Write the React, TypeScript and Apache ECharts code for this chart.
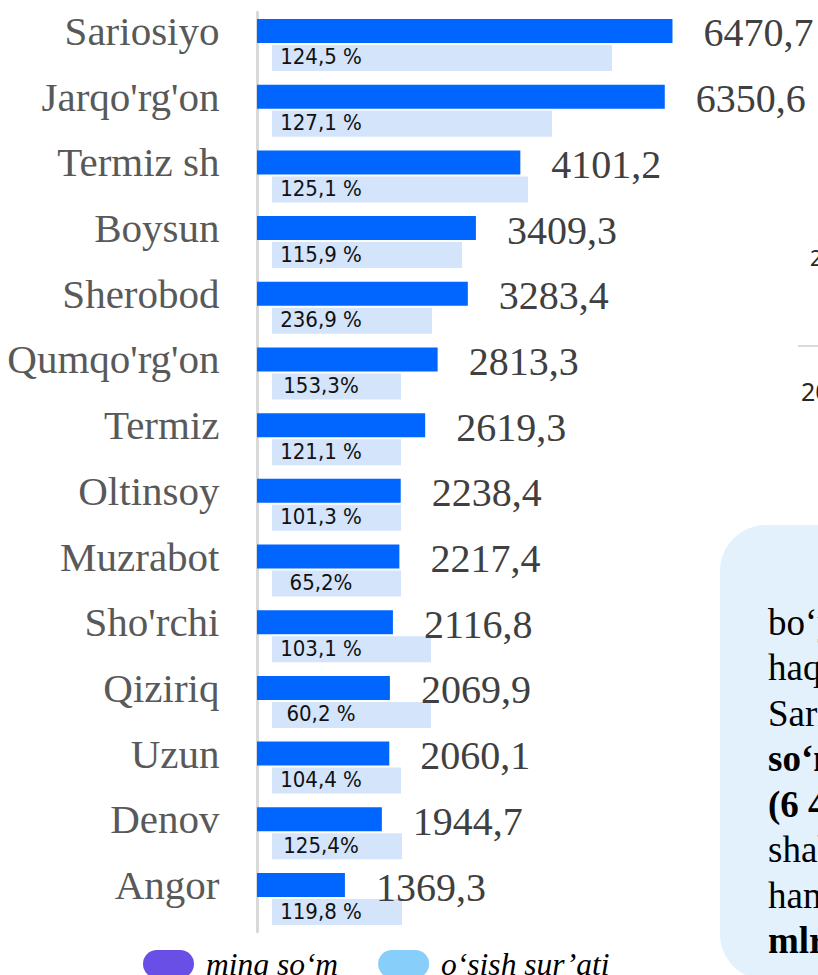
import React, { useEffect, useRef } from "react";
import * as echarts from "echarts";

// Districts (top to bottom)
const categories = [
  "Sariosiyo",
  "Jarqo'rg'on",
  "Termiz sh",
  "Boysun",
  "Sherobod",
  "Qumqo'rg'on",
  "Termiz",
  "Oltinsoy",
  "Muzrabot",
  "Sho'rchi",
  "Qiziriq",
  "Uzun",
  "Denov",
  "Angor",
];

// ming so‘m
const values = [
  6470.7, 6350.6, 4101.2, 3409.3, 3283.4, 2813.3, 2619.3, 2238.4, 2217.4,
  2116.8, 2069.9, 2060.1, 1944.7, 1369.3,
];

// o‘sish sur’ati (labels as printed)
const growthLabels = [
  "124,5 %",
  "127,1 %",
  "125,1 %",
  "115,9 %",
  "236,9 %",
  "153,3%",
  "121,1 %",
  "101,3 %",
  "65,2%",
  "103,1 %",
  "60,2 %",
  "104,4 %",
  "125,4%",
  "119,8 %",
];

// lengths of the pale growth bars (same units as the value axis)
const growthBarLengths = [
  5295, 4361, 3987, 2959, 2492, 2009, 2009, 2009, 2009, 2476, 2476, 2009, 2025,
  2025,
];

const legendNames = ["ming so‘m", "o‘sish sur’ati"];

// side panel text (cropped in the picture)
const panelLines = [
  { text: "bo‘yicha", bold: false },
  { text: "haqida", bold: false },
  { text: "Sariosiyo", bold: false },
  { text: "so‘m", bold: true },
  { text: "(6 470,7", bold: true },
  { text: "shahri", bold: false },
  { text: "hamda", bold: false },
  { text: "mlrd", bold: true },
];

const fmt = (v: number) => v.toFixed(1).replace(".", ",");

const pillPath =
  "path://M14,0 L37,0 A14,14 0 0 1 37,28 L14,28 A14,14 0 0 1 14,0 Z";

export default function App() {
  const ref = useRef<HTMLDivElement>(null);

  useEffect(() => {
    if (!ref.current) return;
    const chart = echarts.init(ref.current, null, { renderer: "svg" });

    const xMax = 8000;
    const pxPerUnit = 0.06421;
    const gridWidth = xMax * pxPerUnit;
    const paleOffset = 15 / pxPerUnit;

    const panelTexts: any[] = panelLines.map((l, i) => ({
      type: "text",
      style: {
        text: l.text,
        x: 768,
        y: 622 + i * 45.5,
        fontFamily: "Liberation Serif",
        fontSize: 37,
        fontWeight: l.bold ? "bold" : "normal",
        fill: "#000",
        verticalAlign: "middle",
      },
    }));

    chart.setOption({
      animation: false,
      backgroundColor: "#ffffff",
      grid: {
        left: 257,
        top: 12.15,
        width: gridWidth,
        height: 919.7,
        containLabel: false,
      },
      legend: {
        data: [
          { name: legendNames[0], itemStyle: { color: "#6a4fe6" }, icon: pillPath },
          { name: legendNames[1], itemStyle: { color: "#87cefa" }, icon: pillPath },
        ],
        selectedMode: false,
        left: 143,
        top: 948,
        padding: 0,
        itemWidth: 51,
        itemHeight: 28,
        itemGap: 40,
        textStyle: {
          fontFamily: "Liberation Serif",
          fontStyle: "italic",
          fontSize: 31.5,
          lineHeight: 24,
          color: "#000",
          padding: [0, 0, 0, 7],
        },
      },
      xAxis: [
        { type: "value", min: 0, max: xMax, show: false },
        {
          type: "value",
          min: -paleOffset,
          max: xMax - paleOffset,
          show: false,
        },
      ],
      yAxis: {
        type: "category",
        data: categories,
        inverse: true,
        offset: 2.5,
        axisTick: { show: false },
        axisLine: { show: true, lineStyle: { color: "#d9d9d9", width: 3 } },
        splitLine: { show: false },
        axisLabel: {
          margin: 35,
          fontFamily: "Liberation Serif",
          fontSize: 41,
          color: "#595959",
          verticalAlign: "bottom",
          lineHeight: 28,
        },
      },
      series: [
        {
          name: legendNames[0],
          type: "bar",
          xAxisIndex: 0,
          data: values,
          barWidth: 24,
          barGap: "8.33%",
          itemStyle: { color: "#0066ff" },
          label: {
            show: true,
            position: "right",
            distance: 31,
            offset: [0, 2],
            formatter: (p: any) => fmt(p.value),
            fontFamily: "Liberation Serif",
            fontSize: 40,
            color: "#404040",
          },
          z: 3,
        },
        {
          name: legendNames[1],
          type: "bar",
          xAxisIndex: 1,
          data: growthBarLengths,
          barWidth: 26,
          itemStyle: { color: "#d3e4fb" },
          label: {
            show: true,
            position: [49, "50%"],
            align: "center",
            verticalAlign: "middle",
            offset: [0, -1],
            formatter: (p: any) => growthLabels[p.dataIndex],
            fontFamily: "'DejaVu Sans Condensed', 'DejaVu Sans'",
            fontSize: 22,
            color: "#111111",
          },
          z: 2,
        },
      ],
      graphic: [
        {
          type: "rect",
          shape: { x: 720, y: 525, width: 200, height: 455, r: 46 },
          style: { fill: "#e3f1fd" },
          z: 0,
        },
        ...panelTexts,
        {
          type: "text",
          style: {
            text: "2024",
            x: 810,
            y: 258,
            fontFamily: "'Noto Sans'",
            fontSize: 21,
            fill: "#262626",
            verticalAlign: "middle",
          },
        },
        {
          type: "line",
          shape: { x1: 798, y1: 346, x2: 830, y2: 346 },
          style: { stroke: "#d9d9d9", lineWidth: 2 },
        },
        {
          type: "text",
          style: {
            text: "2023",
            x: 801,
            y: 391,
            fontFamily: "'Noto Sans'",
            fontSize: 25,
            fill: "#262626",
            verticalAlign: "middle",
          },
        },
      ],
    });

    return () => chart.dispose();
  }, []);

  return (
    <div
      ref={ref}
      style={{
        position: "fixed",
        left: 0,
        top: 0,
        width: 818,
        height: 975,
        background: "#fff",
      }}
    />
  );
}
